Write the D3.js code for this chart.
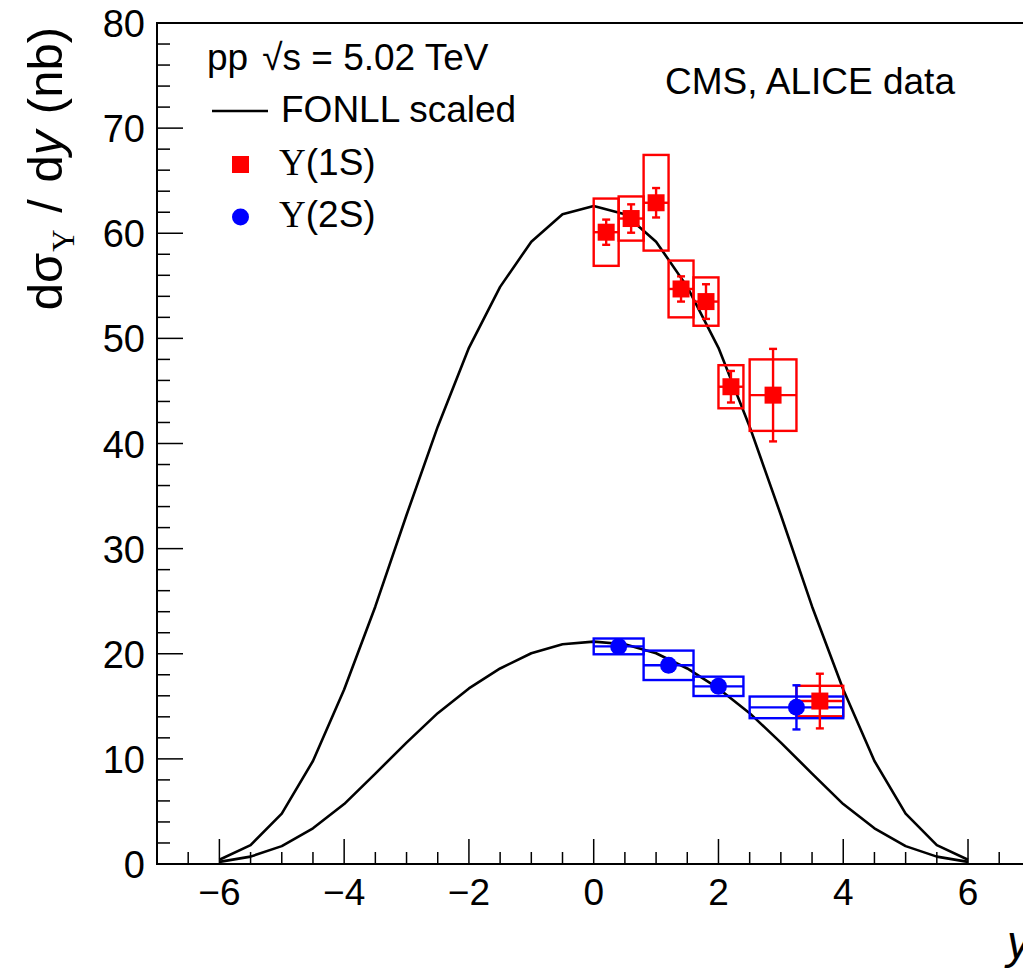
<!DOCTYPE html>
<html>
<head>
<meta charset="utf-8">
<script src="https://cdn.jsdelivr.net/npm/d3@7"></script>
<style>
  html, body { margin: 0; padding: 0; background: #fff; }
  svg { display: block; }
  text { font-family: "Liberation Sans", Arial, Helvetica, sans-serif; fill: #000; }
</style>
</head>
<body>
<svg id="chart" width="1023" height="971"></svg>
<script>
// ---------------- data ----------------
const fonllRapidity = [-6,-5.5,-5,-4.5,-4,-3.5,-3,-2.5,-2,-1.5,-1,-0.5,0,0.5,1,1.5,2,2.5,3,3.5,4,4.5,5,5.5,6];
const fonll1S = [0.4,1.8,4.8,9.8,16.6,24.5,33.2,41.6,49.1,54.9,59.2,61.8,62.6,61.8,59.2,54.9,49.1,41.6,33.2,24.5,16.6,9.8,4.8,1.8,0.4];
const fonll2S = [0.2,0.7,1.7,3.4,5.7,8.6,11.55,14.35,16.7,18.6,20.05,20.9,21.15,20.9,20.05,18.6,16.7,14.35,11.55,8.6,5.7,3.4,1.7,0.7,0.2];

const ups1S_y    = [0.2, 0.6, 1.0, 1.4, 1.8, 2.2, 2.875, 3.625];
const ups1S_ylo  = [0.0, 0.4, 0.8, 1.2, 1.6, 2.0, 2.5, 3.25];
const ups1S_yhi  = [0.4, 0.8, 1.2, 1.6, 2.0, 2.4, 3.25, 4.0];
const ups1S_val  = [60.1, 61.4, 62.9, 54.7, 53.5, 45.4, 44.6, 15.5];
const ups1S_stat = [1.2, 1.35, 1.4, 1.2, 1.65, 1.5, 4.4, 2.6];
const ups1S_sys  = [3.2, 2.1, 4.55, 2.7, 2.3, 2.05, 3.4, 1.45];

const ups2S_y    = [0.4, 1.2, 2.0, 3.25];
const ups2S_ylo  = [0.0, 0.8, 1.6, 2.5];
const ups2S_yhi  = [0.8, 1.6, 2.4, 4.0];
const ups2S_val  = [20.7, 18.9, 16.9, 14.9];
const ups2S_stat = [0.5, 0.6, 0.6, 2.1];
const ups2S_sys  = [0.75, 1.4, 0.92, 1.03];

const xMajorTicks = [-6,-4,-2,0,2,4,6];
const yMajorTicks = [0,10,20,30,40,50,60,70,80];

// ---------------- layout ----------------
const svg = d3.select("#chart");
svg.append("rect").attr("width",1023).attr("height",971).attr("fill","#fff");

const x = d3.scaleLinear().domain([-7, 7]).range([157, 1030.4]);
const y = d3.scaleLinear().domain([0, 80]).range([864, 23]);

const RED = "#ff0000", BLUE = "#0000ff";
const SERIF = "'Liberation Serif', 'Times New Roman', serif";

// frame
const g = svg.append("g");
g.append("rect")
  .attr("x", x(-7)).attr("y", y(80))
  .attr("width", x(7) - x(-7)).attr("height", y(0) - y(80))
  .attr("fill","none").attr("stroke","#000").attr("stroke-width",2);

// x ticks (inside, pointing up)
const xMinor = d3.range(-7, 7.001, 0.5);
g.selectAll(".xminor").data(xMinor).join("line")
  .attr("x1", d => x(d)).attr("x2", d => x(d))
  .attr("y1", y(0)).attr("y2", d => y(0) - (Math.abs(d % 2) < 1e-9 ? 25 : 12))
  .attr("stroke","#000").attr("stroke-width",1.5);

// y ticks (inside, pointing right)
const yMinor = d3.range(0, 80.001, 2);
g.selectAll(".yminor").data(yMinor).join("line")
  .attr("y1", d => y(d)).attr("y2", d => y(d))
  .attr("x1", x(-7)).attr("x2", d => x(-7) + (d % 10 === 0 ? 26 : 13))
  .attr("stroke","#000").attr("stroke-width",1.5);

// tick labels
const fmt = d3.format("");
g.selectAll(".xlab").data(xMajorTicks).join("text")
  .attr("x", d => x(d)).attr("y", 905)
  .attr("text-anchor","middle").attr("font-size", 37)
  .text(d => fmt(d));
g.selectAll(".ylab").data(yMajorTicks).join("text")
  .attr("x", 145).attr("y", d => y(d) + 14)
  .attr("text-anchor","end").attr("font-size", 38)
  .text(d => fmt(d));

// axis titles
const yt = svg.append("text")
  .attr("transform", "translate(62,27) rotate(-90)")
  .attr("text-anchor","end").attr("font-size", 49).attr("word-spacing", 3);
yt.append("tspan").text("dσ");
yt.append("tspan").attr("font-family", SERIF)
  .attr("font-size", 31).attr("dy", 12).attr("dx", 1).text("Υ");
yt.append("tspan").attr("dy", -12).text(" / d");
yt.append("tspan").attr("font-style","italic").text("y");
yt.append("tspan").text(" (nb)");

svg.append("text").attr("x", 1030).attr("y", 958)
  .attr("text-anchor","end").attr("font-size", 46).attr("font-style","italic").text("y");

// ---------------- curves ----------------
const line = d3.line().x(d => x(d[0])).y(d => y(d[1]));
[fonll1S, fonll2S].forEach(vals => {
  svg.append("path")
    .datum(fonllRapidity.map((r, i) => [r, vals[i]]))
    .attr("d", line).attr("fill","none").attr("stroke","#000").attr("stroke-width",2.6)
    .attr("stroke-linejoin","round");
});

// ---------------- data ----------------
function sysBoxes(ys, lo, hi, val, sys, color) {
  const gg = svg.append("g").attr("stroke", color).attr("stroke-width", 2.4).attr("fill","none");
  ys.forEach((d, i) => {
    gg.append("rect")
      .attr("x", x(lo[i])).attr("y", y(val[i] + sys[i]))
      .attr("width", x(hi[i]) - x(lo[i])).attr("height", y(val[i] - sys[i]) - y(val[i] + sys[i]));
    gg.append("line")
      .attr("x1", x(lo[i])).attr("x2", x(hi[i])).attr("y1", y(val[i])).attr("y2", y(val[i]));
  });
}
function statBars(ys, val, stat, color) {
  const gg = svg.append("g").attr("stroke", color).attr("stroke-width", 2.4);
  ys.forEach((d, i) => {
    gg.append("line").attr("x1", x(d)).attr("x2", x(d))
      .attr("y1", y(val[i] + stat[i])).attr("y2", y(val[i] - stat[i]));
    [val[i] + stat[i], val[i] - stat[i]].forEach(v => {
      gg.append("line").attr("x1", x(d) - 4).attr("x2", x(d) + 4)
        .attr("y1", y(v)).attr("y2", y(v));
    });
  });
}

sysBoxes(ups1S_y, ups1S_ylo, ups1S_yhi, ups1S_val, ups1S_sys, RED);
sysBoxes(ups2S_y, ups2S_ylo, ups2S_yhi, ups2S_val, ups2S_sys, BLUE);
statBars(ups2S_y, ups2S_val, ups2S_stat, BLUE);
svg.append("g").selectAll("circle").data(ups2S_y).join("circle")
  .attr("cx", d => x(d)).attr("cy", (d, i) => y(ups2S_val[i])).attr("r", 8.5).attr("fill", BLUE);
statBars(ups1S_y, ups1S_val, ups1S_stat, RED);
svg.append("g").selectAll("rect").data(ups1S_y).join("rect")
  .attr("x", d => x(d) - 8.5).attr("y", (d, i) => y(ups1S_val[i]) - 8.5)
  .attr("width", 17).attr("height", 17).attr("fill", RED);

// ---------------- legend ----------------
const t0 = svg.append("text").attr("x", 207).attr("y", 70).attr("font-size", 37);
t0.append("tspan").text("pp");
t0.append("tspan").attr("dx", 14).text("√s = 5.02 TeV");
svg.append("line").attr("x1", 212).attr("x2", 268).attr("y1", 111).attr("y2", 111)
  .attr("stroke","#000").attr("stroke-width",2.6);
svg.append("text").attr("x", 281).attr("y", 122).attr("font-size", 37).text("FONLL scaled");
svg.append("rect").attr("x", 232).attr("y", 156).attr("width", 17).attr("height", 17).attr("fill", RED);
const l1 = svg.append("text").attr("x", 279).attr("y", 175).attr("font-size", 37);
l1.append("tspan").attr("font-family", SERIF).text("Υ");
l1.append("tspan").text("(1S)");
svg.append("circle").attr("cx", 240.5).attr("cy", 217).attr("r", 8.5).attr("fill", BLUE);
const l2 = svg.append("text").attr("x", 279).attr("y", 227).attr("font-size", 37);
l2.append("tspan").attr("font-family", SERIF).text("Υ");
l2.append("tspan").text("(2S)");

svg.append("text").attr("x", 665).attr("y", 94).attr("font-size", 37).text("CMS, ALICE data");
</script>
</body>
</html>
